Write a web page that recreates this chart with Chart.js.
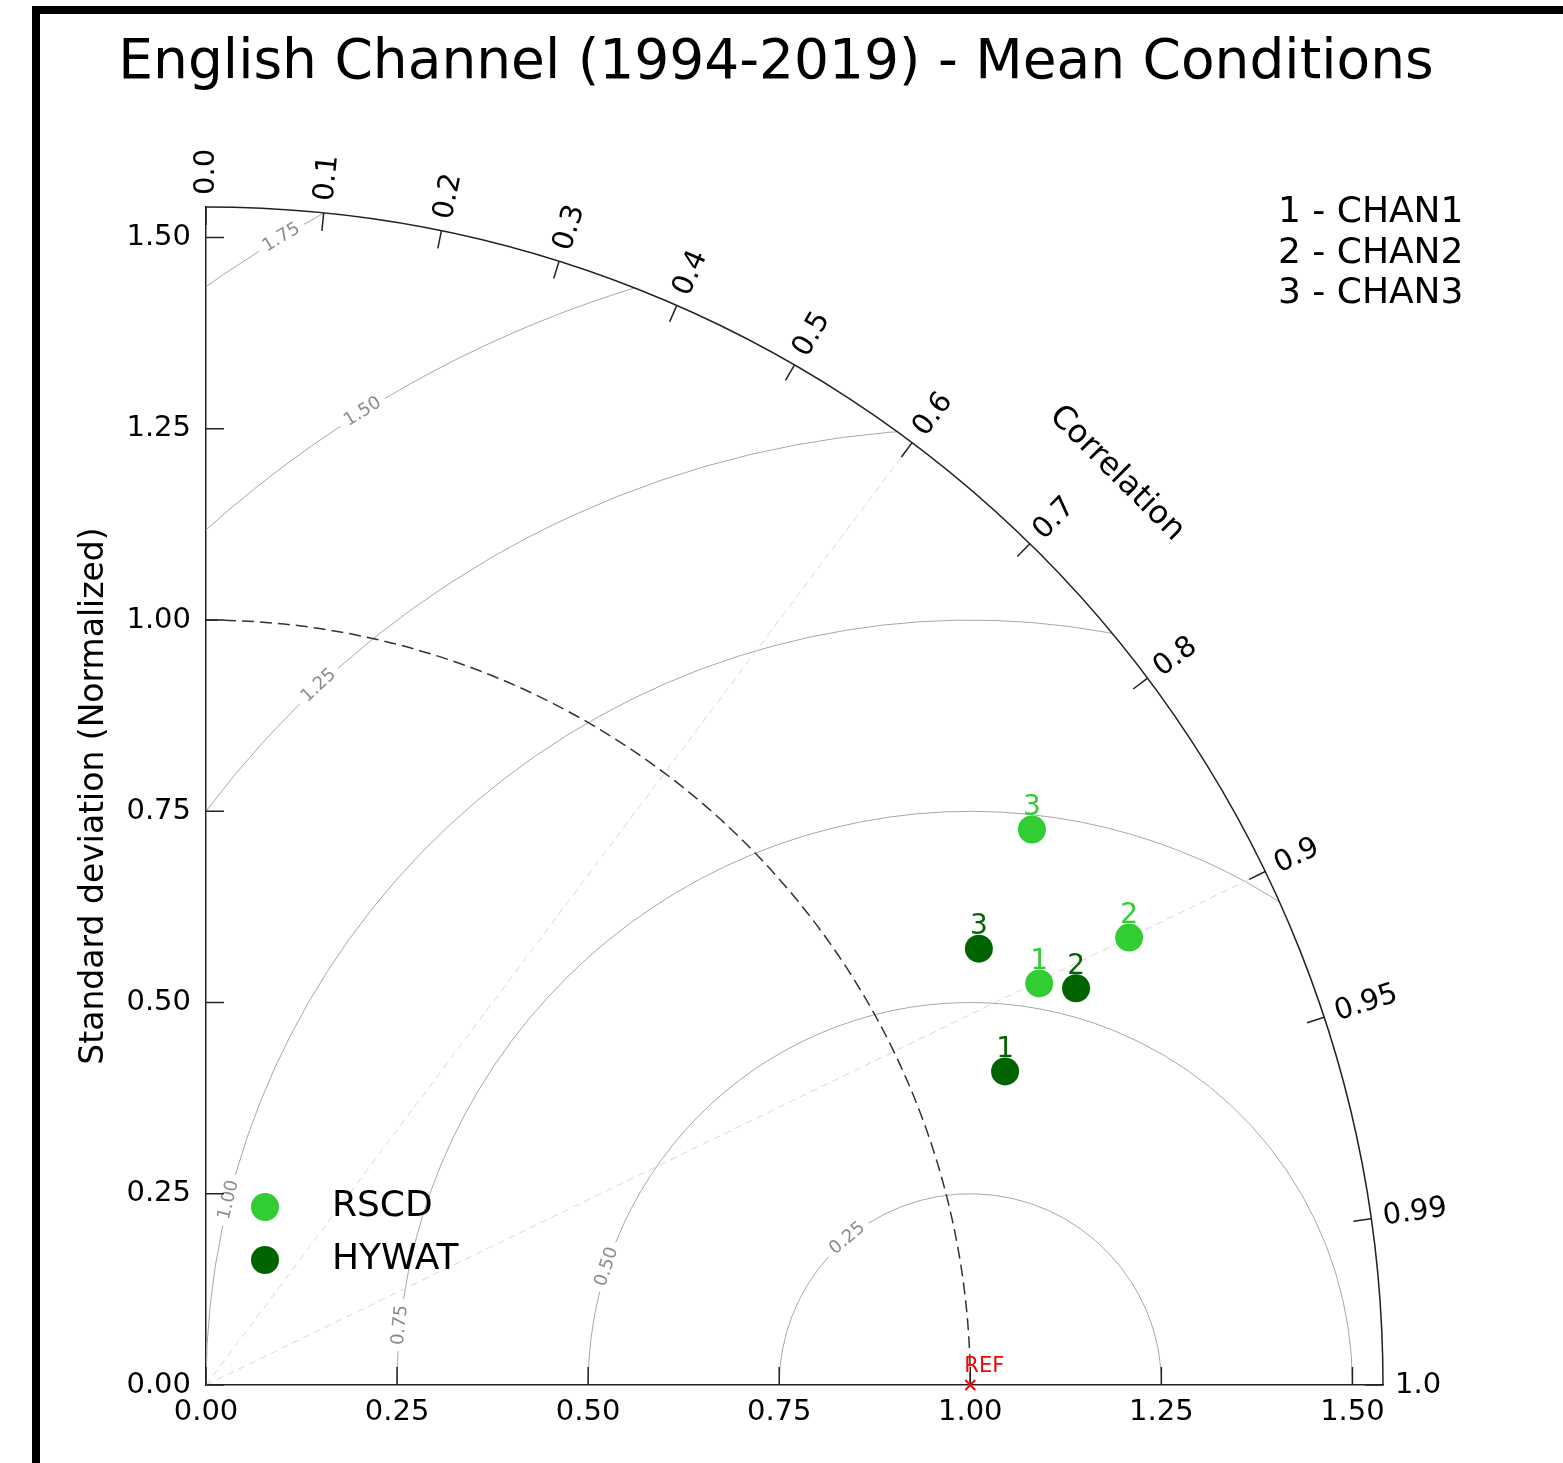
<!DOCTYPE html>
<html>
<head>
<meta charset="utf-8">
<title>English Channel (1994-2019) - Mean Conditions</title>
<script src="https://cdn.jsdelivr.net/npm/chart.js@4.4.1/dist/chart.umd.min.js"></script>
<style>
  html, body { margin: 0; padding: 0; background: #fff; }
  #wrap { width: 1563px; height: 1463px; }
</style>
</head>
<body>
<div id="wrap"><canvas id="taylor" width="1563" height="1463"></canvas></div>
<script>
// Taylor diagram
const titleText = 'English Channel (1994-2019) - Mean Conditions';
const seriesNames = ['RSCD', 'HYWAT'];
const seriesColors = ['#32cd32', '#006400'];
const modelIds = ['1', '2', '3'];
const modelNames = ['CHAN1', 'CHAN2', 'CHAN3'];

// normalized standard deviation and correlation per model
const rscdStd = [1.210, 1.342, 1.302];
const rscdCorr = [0.901, 0.900, 0.830];
const hywatStd = [1.123, 1.251, 1.161];
const hywatCorr = [0.931, 0.910, 0.871];

const refStd = 1.0;
const stdMax = 1.54;
const stdTicks = [0, 0.25, 0.5, 0.75, 1.0, 1.25, 1.5];
const corrTicks = [0, 0.1, 0.2, 0.3, 0.4, 0.5, 0.6, 0.7, 0.8, 0.9, 0.95, 0.99, 1.0];
const corrLines = [0.6, 0.9];
const rmsLevels = [0.25, 0.5, 0.75, 1.0, 1.25, 1.5, 1.75];
const rmsLabelAngles = [130, 162, 174, 166, 133, 122, 121]; // where the contour label sits (deg around REF)

const FONT = '"DejaVu Sans", Verdana, sans-serif';

// std + corr -> cartesian point
function toXY(std, corr) {
    return { x: std * corr, y: std * Math.sqrt(1 - corr * corr) };
}

function fmtCorr(c) {
    if (c === 0) return '0.0';
    if (c === 1) return '1.0';
    return String(c);
}

const taylorPlugin = {
    id: 'taylor',
    beforeDraw(chart) {
        const ctx = chart.ctx;
        ctx.save();
        ctx.fillStyle = '#fff';
        ctx.fillRect(0, 0, chart.width, chart.height);
        // black frame (top and left) as in the cropped original
        ctx.fillStyle = '#000';
        ctx.fillRect(32, 6, chart.width - 32, 8);
        ctx.fillRect(32, 6, 8, chart.height - 6);
        // title
        ctx.font = '55px ' + FONT;
        ctx.textAlign = 'center';
        ctx.textBaseline = 'alphabetic';
        ctx.fillText(titleText, 776, 78);
        ctx.restore();
    },
    beforeDatasetsDraw(chart) {
        const { ctx, scales: { x, y } } = chart;
        const ox = x.getPixelForValue(0), oy = y.getPixelForValue(0);
        const Rx = x.getPixelForValue(stdMax) - ox;
        const Ry = oy - y.getPixelForValue(stdMax);
        const cx = x.getPixelForValue(refStd);

        ctx.save();
        // RMS difference contours, clipped to the quarter disc
        ctx.save();
        ctx.beginPath();
        ctx.moveTo(ox, oy);
        ctx.ellipse(ox, oy, Rx, Ry, 0, -Math.PI / 2, 0);
        ctx.closePath();
        ctx.clip();
        ctx.font = '18px ' + FONT;
        rmsLevels.forEach((lvl, i) => {
            const rx = x.getPixelForValue(refStd + lvl) - cx;
            const ry = oy - y.getPixelForValue(lvl);
            const th = rmsLabelAngles[i] * Math.PI / 180;
            const label = lvl.toFixed(2);
            const w = ctx.measureText(label).width;
            const d = (w / 2 + 6) / rx;
            ctx.strokeStyle = '#a8a8a8';
            ctx.lineWidth = 1;
            ctx.setLineDash([]);
            ctx.beginPath();
            ctx.ellipse(cx, oy, rx, ry, 0, -Math.PI, -(th + d));
            ctx.stroke();
            ctx.beginPath();
            ctx.ellipse(cx, oy, rx, ry, 0, -(th - d), 0);
            ctx.stroke();
            // label along the contour
            const lx = cx + rx * Math.cos(th), ly = oy - ry * Math.sin(th);
            ctx.save();
            ctx.translate(lx, ly);
            ctx.rotate(Math.atan2(Math.cos(th), Math.sin(th)));
            ctx.fillStyle = '#8c8c8c';
            ctx.textAlign = 'center';
            ctx.textBaseline = 'middle';
            ctx.fillText(label, 0, 0);
            ctx.restore();
        });
        ctx.restore();

        // correlation reference lines
        ctx.strokeStyle = '#d8d8d8';
        ctx.lineWidth = 1;
        ctx.setLineDash([7, 5]);
        corrLines.forEach(c => {
            const th = Math.acos(c);
            ctx.beginPath();
            ctx.moveTo(ox, oy);
            ctx.lineTo(ox + Rx * Math.cos(th), oy - Ry * Math.sin(th));
            ctx.stroke();
        });

        // reference std arc (dashed)
        ctx.strokeStyle = '#333';
        ctx.lineWidth = 1.5;
        ctx.setLineDash([12, 6]);
        ctx.beginPath();
        ctx.ellipse(ox, oy, x.getPixelForValue(refStd) - ox, oy - y.getPixelForValue(refStd), 0, -Math.PI / 2, 0);
        ctx.stroke();

        // outer arc
        ctx.setLineDash([]);
        ctx.strokeStyle = '#222';
        ctx.lineWidth = 1.5;
        ctx.beginPath();
        ctx.ellipse(ox, oy, Rx, Ry, 0, -Math.PI / 2, 0);
        ctx.stroke();

        // inward ticks on x / y axes
        ctx.strokeStyle = '#222';
        stdTicks.forEach(v => {
            const px = x.getPixelForValue(v), py = y.getPixelForValue(v);
            ctx.beginPath();
            ctx.moveTo(px, oy);
            ctx.lineTo(px, oy - 18);
            ctx.moveTo(ox, py);
            ctx.lineTo(ox + 18, py);
            ctx.stroke();
        });

        // correlation ticks and labels
        ctx.font = '29px ' + FONT;
        ctx.fillStyle = '#000';
        corrTicks.forEach(c => {
            const th = Math.acos(c);
            const cs = Math.cos(th), sn = Math.sin(th);
            ctx.beginPath();
            ctx.moveTo(ox + Rx * cs, oy - Ry * sn);
            ctx.lineTo(ox + (Rx - 18) * cs, oy - (Ry - 18) * sn);
            ctx.stroke();
            ctx.save();
            ctx.translate(ox + (Rx + 12) * cs, oy - (Ry + 12) * sn);
            ctx.rotate(-th);
            ctx.textAlign = 'left';
            ctx.textBaseline = 'middle';
            ctx.fillText(fmtCorr(c), 0, 0);
            ctx.restore();
        });

        // "Correlation" axis label
        const ta = Math.PI / 4;
        ctx.save();
        ctx.translate(ox + (Rx + 111) * Math.cos(ta), oy - (Ry + 111) * Math.sin(ta));
        ctx.rotate(Math.PI / 2 - ta);
        ctx.font = '32px ' + FONT;
        ctx.textAlign = 'center';
        ctx.textBaseline = 'middle';
        ctx.fillText('Correlation', 0, 0);
        ctx.restore();

        ctx.restore();
    },
    afterDatasetsDraw(chart) {
        const { ctx, chartArea } = chart;
        ctx.save();
        // numbers above each model point
        ctx.font = '28px ' + FONT;
        ctx.textAlign = 'center';
        ctx.textBaseline = 'middle';
        [0, 1].forEach(di => {
            ctx.fillStyle = seriesColors[di];
            chart.getDatasetMeta(di).data.forEach((pt, j) => {
                ctx.fillText(modelIds[j], pt.x, pt.y - 22);
            });
        });
        // REF label
        const ref = chart.getDatasetMeta(2).data[0];
        ctx.fillStyle = '#ff0000';
        ctx.font = '21px ' + FONT;
        ctx.textBaseline = 'alphabetic';
        ctx.fillText('REF', ref.x + 14, ref.y - 13);

        // legend (lower left inside the plot)
        ctx.font = '36px ' + FONT;
        ctx.textAlign = 'left';
        ctx.textBaseline = 'middle';
        seriesNames.forEach((name, i) => {
            const ly = chartArea.bottom - 178 + i * 53;
            ctx.fillStyle = seriesColors[i];
            ctx.beginPath();
            ctx.arc(chartArea.left + 59, ly, 14, 0, Math.PI * 2);
            ctx.fill();
            ctx.fillStyle = '#000';
            ctx.fillText(name, chartArea.left + 126, ly);
        });

        // model key, top right
        ctx.font = '36px ' + FONT;
        modelIds.forEach((id, i) => {
            ctx.fillText(id + ' - ' + modelNames[i], 1278, 213 + i * 40.5);
        });
        ctx.restore();
    }
};

const stdAxis = () => ({
    type: 'linear',
    min: 0,
    max: stdMax,
    afterBuildTicks: scale => { scale.ticks = stdTicks.map(v => ({ value: v })); },
    ticks: {
        color: '#000',
        font: { family: FONT, size: 29 },
        callback: v => Number(v).toFixed(2)
    },
    grid: { display: false, drawTicks: false },
    border: { display: true, color: '#222', width: 1.5 }
});

const xAxis = stdAxis();
xAxis.ticks.padding = 10;
xAxis.afterFit = scale => { scale.height = 78; };

const yAxis = stdAxis();
yAxis.ticks.padding = 15;
yAxis.title = {
    display: true,
    text: 'Standard deviation (Normalized)',
    color: '#000',
    font: { family: FONT, size: 33 },
    padding: { top: 75, bottom: 0 }
};
yAxis.afterFit = scale => { scale.width = 206; };

new Chart(document.getElementById('taylor'), {
    type: 'scatter',
    data: {
        datasets: [
            {
                label: seriesNames[0],
                data: rscdStd.map((s, i) => toXY(s, rscdCorr[i])),
                backgroundColor: seriesColors[0],
                borderWidth: 0,
                pointRadius: 14,
                pointHoverRadius: 14
            },
            {
                label: seriesNames[1],
                data: hywatStd.map((s, i) => toXY(s, hywatCorr[i])),
                backgroundColor: seriesColors[1],
                borderWidth: 0,
                pointRadius: 14,
                pointHoverRadius: 14
            },
            {
                label: 'REF',
                data: [toXY(refStd, 1)],
                pointStyle: 'crossRot',
                borderColor: '#ff0000',
                borderWidth: 2,
                pointRadius: 7,
                clip: false
            }
        ]
    },
    options: {
        responsive: false,
        animation: false,
        layout: { padding: { left: 0, top: 207, right: 180, bottom: 0 } },
        plugins: {
            legend: { display: false },
            title: { display: false },
            tooltip: { enabled: false }
        },
        scales: { x: xAxis, y: yAxis }
    },
    plugins: [taylorPlugin]
});
</script>
</body>
</html>
